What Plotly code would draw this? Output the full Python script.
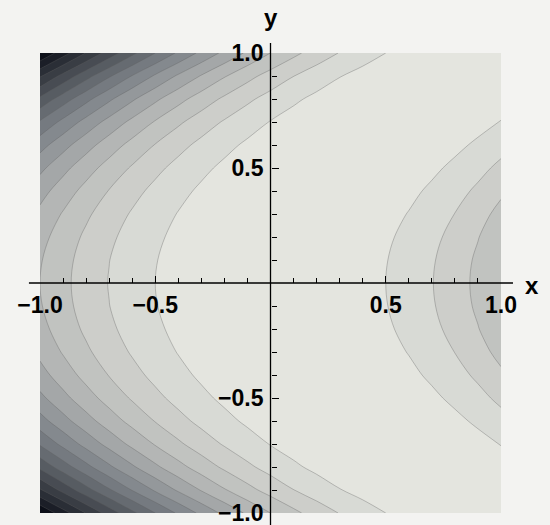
import plotly.graph_objects as go

# grid coordinates
x_values = [-1.0, -0.9, -0.8, -0.7, -0.6, -0.5, -0.4, -0.3, -0.2, -0.1, 0.0,
            0.1, 0.2, 0.3, 0.4, 0.5, 0.6, 0.7, 0.8, 0.9, 1.0]
y_values = [-1.0, -0.9, -0.8, -0.7, -0.6, -0.5, -0.4, -0.3, -0.2, -0.1, 0.0,
            0.1, 0.2, 0.3, 0.4, 0.5, 0.6, 0.7, 0.8, 0.9, 1.0]

# surface values per row (|y| = 0.0 ... 1.0), same for +y and -y
row_y00 = [1.0, 0.81, 0.64, 0.49, 0.36, 0.25, 0.16, 0.09, 0.04, 0.01, 0.0,
           0.01, 0.04, 0.09, 0.16, 0.25, 0.36, 0.49, 0.64, 0.81, 1.0]
row_y01 = [1.0201, 0.8281, 0.6561, 0.5041, 0.3721, 0.2601, 0.1681, 0.0961, 0.0441, 0.0121, 0.0001,
           0.0081, 0.0361, 0.0841, 0.1521, 0.2401, 0.3481, 0.4761, 0.6241, 0.7921, 0.9801]
row_y02 = [1.0816, 0.8836, 0.7056, 0.5476, 0.4096, 0.2916, 0.1936, 0.1156, 0.0576, 0.0196, 0.0016,
           0.0036, 0.0256, 0.0676, 0.1296, 0.2116, 0.3136, 0.4356, 0.5776, 0.7396, 0.9216]
row_y03 = [1.1881, 0.9801, 0.7921, 0.6241, 0.4761, 0.3481, 0.2401, 0.1521, 0.0841, 0.0361, 0.0081,
           0.0001, 0.0121, 0.0441, 0.0961, 0.1681, 0.2601, 0.3721, 0.5041, 0.6561, 0.8281]
row_y04 = [1.3456, 1.1236, 0.9216, 0.7396, 0.5776, 0.4356, 0.3136, 0.2116, 0.1296, 0.0676, 0.0256,
           0.0036, 0.0016, 0.0196, 0.0576, 0.1156, 0.1936, 0.2916, 0.4096, 0.5476, 0.7056]
row_y05 = [1.5625, 1.3225, 1.1025, 0.9025, 0.7225, 0.5625, 0.4225, 0.3025, 0.2025, 0.1225, 0.0625,
           0.0225, 0.0025, 0.0025, 0.0225, 0.0625, 0.1225, 0.2025, 0.3025, 0.4225, 0.5625]
row_y06 = [1.8496, 1.5876, 1.3456, 1.1236, 0.9216, 0.7396, 0.5776, 0.4356, 0.3136, 0.2116, 0.1296,
           0.0676, 0.0256, 0.0036, 0.0016, 0.0196, 0.0576, 0.1156, 0.1936, 0.2916, 0.4096]
row_y07 = [2.2201, 1.9321, 1.6641, 1.4161, 1.1881, 0.9801, 0.7921, 0.6241, 0.4761, 0.3481, 0.2401,
           0.1521, 0.0841, 0.0361, 0.0081, 0.0001, 0.0121, 0.0441, 0.0961, 0.1681, 0.2601]
row_y08 = [2.6896, 2.3716, 2.0736, 1.7956, 1.5376, 1.2996, 1.0816, 0.8836, 0.7056, 0.5476, 0.4096,
           0.2916, 0.1936, 0.1156, 0.0576, 0.0196, 0.0016, 0.0036, 0.0256, 0.0676, 0.1296]
row_y09 = [3.2761, 2.9241, 2.5921, 2.2801, 1.9881, 1.7161, 1.4641, 1.2321, 1.0201, 0.8281, 0.6561,
           0.5041, 0.3721, 0.2601, 0.1681, 0.0961, 0.0441, 0.0121, 0.0001, 0.0081, 0.0361]
row_y10 = [4.0, 3.61, 3.24, 2.89, 2.56, 2.25, 1.96, 1.69, 1.44, 1.21, 1.0,
           0.81, 0.64, 0.49, 0.36, 0.25, 0.16, 0.09, 0.04, 0.01, 0.0]

z_rows = [row_y10, row_y09, row_y08, row_y07, row_y06, row_y05, row_y04, row_y03, row_y02, row_y01,
          row_y00,
          row_y01, row_y02, row_y03, row_y04, row_y05, row_y06, row_y07, row_y08, row_y09, row_y10]

contour_start = 0.25
contour_end = 3.75
contour_step = 0.25

x_tick_vals = [-1.0, -0.5, 0.5, 1.0]
x_tick_text = ["\u22121.0", "\u22120.5", "0.5", "1.0"]
y_tick_vals = [-1.0, -0.5, 0.5, 1.0]
y_tick_text = ["\u22121.0", "\u22120.5", "0.5", "1.0"]
minor_vals = [-0.9, -0.8, -0.7, -0.6, -0.4, -0.3, -0.2, -0.1,
              0.1, 0.2, 0.3, 0.4, 0.6, 0.7, 0.8, 0.9]

bg = "rgb(243,243,241)"
FONT = "Liberation Sans, Arial, sans-serif"

fig = go.Figure()
fig.add_trace(go.Contour(
    x=x_values, y=y_values, z=z_rows,
    contours=dict(start=contour_start, end=contour_end, size=contour_step, coloring="fill"),
    colorscale=[[0.0, "rgb(228,229,223)"], [0.25, "rgb(184,186,184)"],
                [0.5, "rgb(124,130,135)"], [1.0, "rgb(12,15,24)"]],
    line=dict(color="rgba(95,95,95,0.5)", width=0.7, smoothing=1.0),
    showscale=False, hoverinfo="skip",
))

tickfont = dict(family=FONT, size=23, color="black", weight="bold")

axis_common = dict(range=[-1, 1], anchor="free", position=0.5, automargin=False,
                   showgrid=False, zeroline=False, showline=False,
                   tickmode="array", ticklabeloverflow="allow",
                   ticks="inside", ticklen=7, tickwidth=1.2, tickcolor="black",
                   minor=dict(tickmode="array", tickvals=minor_vals, ticks="inside",
                              ticklen=5, tickwidth=1.2, tickcolor="black"),
                   tickfont=tickfont)

fig.update_layout(
    width=550, height=525,
    margin=dict(l=40, r=49, t=53, b=12),
    paper_bgcolor=bg, plot_bgcolor=bg,
    showlegend=False,
    xaxis=dict(axis_common, side="bottom", tickvals=x_tick_vals, ticktext=x_tick_text,
               ticklabelstandoff=6),
    yaxis=dict(axis_common, side="left", tickvals=y_tick_vals, ticktext=y_tick_text,
               ticklabelstandoff=7),
    shapes=[
        dict(type="line", xref="paper", yref="paper", x0=-0.024, x1=1.026, y0=0.5, y1=0.5,
             line=dict(color="black", width=1.3), layer="above"),
        dict(type="line", xref="paper", yref="paper", x0=0.5, x1=0.5, y0=-0.03, y1=1.022,
             line=dict(color="black", width=1.3), layer="above"),
    ],
    annotations=[
        dict(text="x", xref="paper", yref="paper", x=1.067, y=0.495, showarrow=False,
             xanchor="center", yanchor="middle",
             font=dict(family=FONT, size=24, color="black", weight="bold")),
        dict(text="y", xref="paper", yref="paper", x=0.5, y=1.078, showarrow=False,
             xanchor="center", yanchor="middle",
             font=dict(family=FONT, size=24, color="black", weight="bold")),
    ],
)

fig.write_html("out.html")
